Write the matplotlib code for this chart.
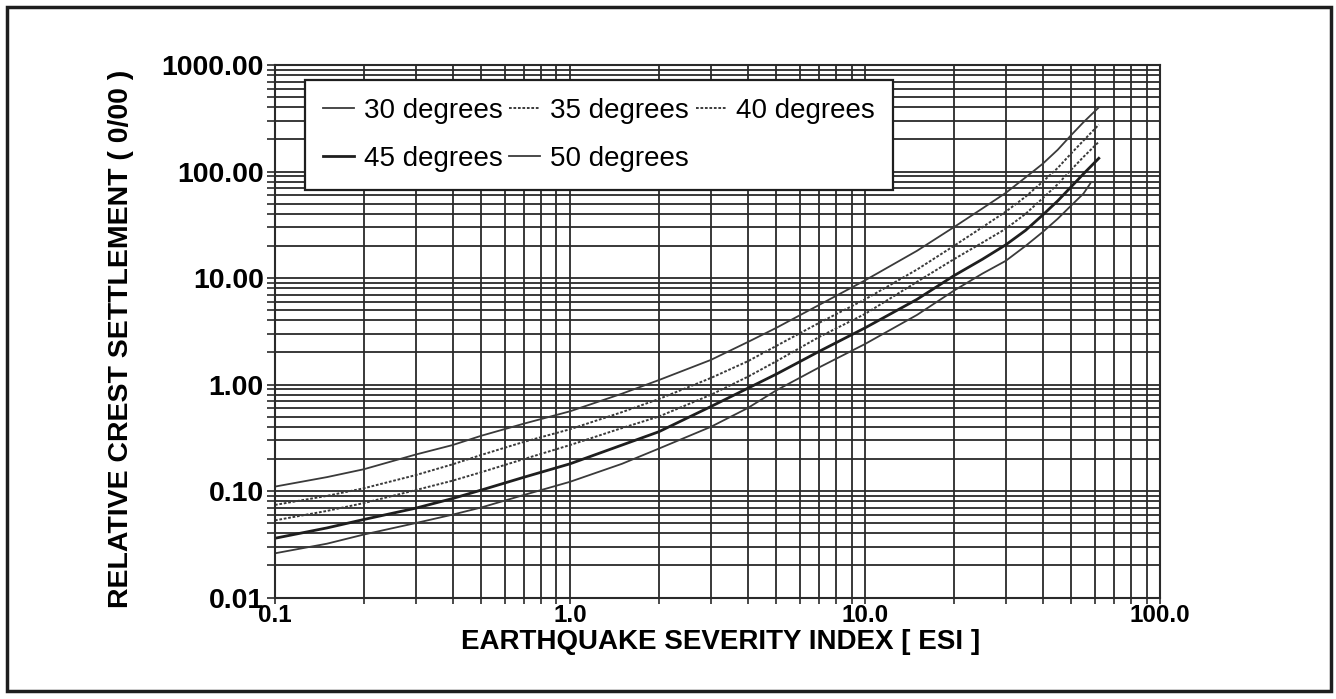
import matplotlib
matplotlib.use("Agg")
import matplotlib.pyplot as plt
from matplotlib.patches import Rectangle
from matplotlib.ticker import LogLocator, FixedLocator, FixedFormatter, NullFormatter

plt.rcParams['font.family'] = ['Liberation Sans', 'DejaVu Sans']

# ESI values where the curves were read
esi = [0.1, 0.15, 0.2, 0.3, 0.4, 0.5, 0.7, 1.0, 1.5, 2.0, 3.0, 4.0, 5.0, 7.0,
       10.0, 15.0, 20.0, 25.0, 30.0, 35.0, 40.0, 45.0, 50.0, 55.0, 62.0]
esi50 = esi[:-1] + [58.0]

# relative crest settlement (0/00) for each friction angle
s30 = [0.11, 0.135, 0.16, 0.22, 0.27, 0.33, 0.43, 0.56, 0.82, 1.1, 1.7, 2.5, 3.4, 5.6,
       9.5, 18.0, 30.0, 45.0, 63.0, 88.0, 118.0, 160.0, 220.0, 290.0, 400.0]
s35 = [0.074, 0.090, 0.106, 0.141, 0.178, 0.218, 0.29, 0.38, 0.55, 0.73, 1.15, 1.65, 2.3, 3.8,
       6.3, 12.0, 20.0, 30.0, 42.0, 58.0, 80.0, 108.0, 148.0, 195.0, 275.0]
s40 = [0.053, 0.065, 0.077, 0.102, 0.125, 0.150, 0.20, 0.27, 0.39, 0.50, 0.80, 1.18, 1.65, 2.8,
       4.6, 9.2, 15.0, 21.5, 29.0, 40.0, 56.0, 76.0, 104.0, 137.0, 190.0]
s45 = [0.036, 0.045, 0.054, 0.069, 0.085, 0.102, 0.135, 0.18, 0.27, 0.36, 0.62, 0.92, 1.25, 2.05,
       3.4, 6.3, 10.5, 15.0, 20.5, 28.0, 39.0, 53.0, 72.0, 95.0, 133.0]
s50 = [0.026, 0.032, 0.039, 0.050, 0.060, 0.070, 0.092, 0.122, 0.18, 0.25, 0.40, 0.60, 0.88, 1.45,
       2.4, 4.5, 7.6, 11.0, 14.5, 20.0, 27.0, 36.0, 48.0, 62.0, 77.0]

y_ticks = [0.01, 0.1, 1, 10, 100, 1000]
y_labels = ['0.01', '0.10', '1.00', '10.00', '100.00', '1000.00']
x_ticks = [0.1, 1, 10, 100]
x_labels = ['0.1', '1.0', '10.0', '100.0']

fig = plt.figure(figsize=(13.36, 6.99), dpi=100)
ax = fig.add_axes([0.2058, 0.1452, 0.6625, 0.7618])

curve = '#3a3a3a'
dots = (0, (1.4, 0.9))
l30, = ax.plot(esi, s30, color=curve, lw=1.3, label='30 degrees')
l35, = ax.plot(esi, s35, color=curve, lw=1.4, ls=dots, label='35 degrees')
l40, = ax.plot(esi, s40, color=curve, lw=1.4, ls=dots, label='40 degrees')
l45, = ax.plot(esi, s45, color='#1e1e1e', lw=2.0, label='45 degrees')
l50, = ax.plot(esi50, s50, color=curve, lw=1.3, label='50 degrees')

ax.set_xscale('log')
ax.set_yscale('log')
ax.set_xlim(0.1, 100)
ax.set_ylim(0.01, 1000)

ax.xaxis.set_major_locator(FixedLocator(x_ticks))
ax.xaxis.set_major_formatter(FixedFormatter(x_labels))
ax.yaxis.set_major_locator(FixedLocator(y_ticks))
ax.yaxis.set_major_formatter(FixedFormatter(y_labels))
ax.xaxis.set_minor_locator(LogLocator(base=10, subs=range(2, 10)))
ax.yaxis.set_minor_locator(LogLocator(base=10, subs=range(2, 10)))
ax.xaxis.set_minor_formatter(NullFormatter())
ax.yaxis.set_minor_formatter(NullFormatter())

grid = '#2a2a2a'
ax.grid(True, which='both', color=grid, lw=1.3)
ax.set_axisbelow(True)
ax.tick_params(which='both', direction='out', length=6, width=1.2, color=grid)
ax.tick_params(axis='x', which='both', length=4)
ax.tick_params(axis='y', which='major', labelsize=20.5, pad=2)
ax.tick_params(axis='x', which='major', labelsize=17.5, pad=0.5)
for lab in ax.get_xticklabels() + ax.get_yticklabels():
    lab.set_fontweight('bold')
for sp in ax.spines.values():
    sp.set_color(grid)
    sp.set_linewidth(1.5)

ax.set_xlabel('EARTHQUAKE SEVERITY INDEX [ ESI ]', fontsize=20, fontweight='bold')
ax.set_ylabel('RELATIVE CREST SETTLEMENT ( 0/00 )', fontsize=20.5, fontweight='bold')
ax.xaxis.set_label_coords(0.503, -0.059)
ax.yaxis.set_label_coords(-0.174, 0.485)
ax.yaxis.label.set_va('center')

# handles ordered so the three columns read row by row
leg = ax.legend([l30, l45, l35, l50, l40],
                ['30 degrees', '45 degrees', '35 degrees', '50 degrees', '40 degrees'],
                ncol=3, loc='upper left', bbox_to_anchor=(0.034, 0.972), fontsize=20,
                frameon=True, fancybox=False, handlelength=1.1, handletextpad=0.36,
                columnspacing=0.25, borderpad=0.65, labelspacing=0.8, borderaxespad=0)
leg.get_frame().set_edgecolor('#1e1e1e')
leg.get_frame().set_linewidth(1.6)
leg.get_frame().set_alpha(1)

# outer border of the figure
fig.patches.append(Rectangle((0.0052, 0.012), 0.9910, 0.978, transform=fig.transFigure,
                             fill=False, edgecolor='#1e1e1e', lw=2.5))

fig.savefig('out.png', dpi=100)
